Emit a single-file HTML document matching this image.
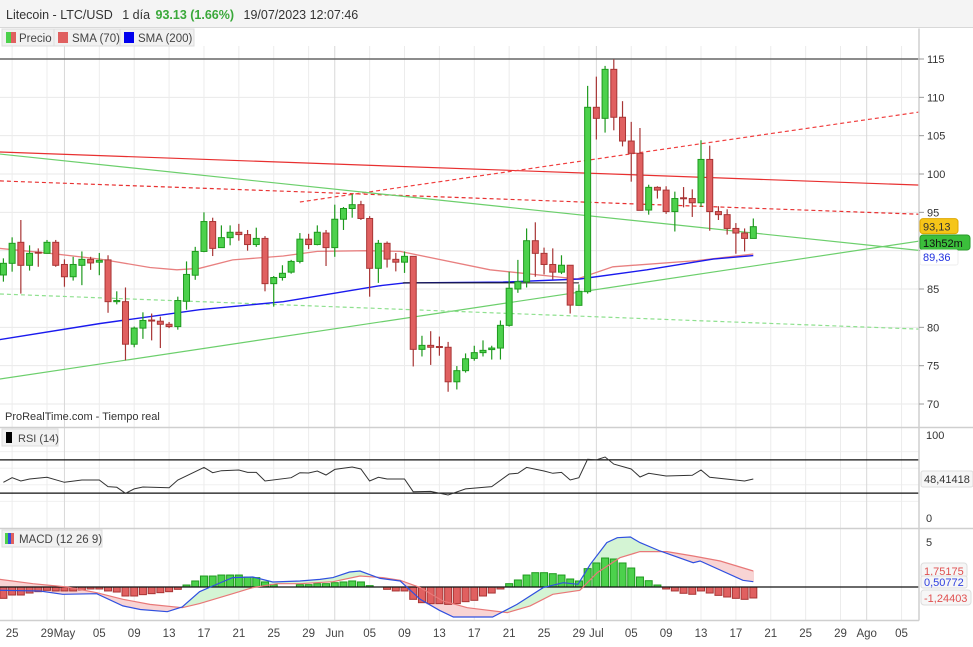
<!DOCTYPE html>
<html><head><meta charset="utf-8"><style>
body{margin:0;background:#fff;font-family:"Liberation Sans",sans-serif}
svg{display:block}
text{font-family:"Liberation Sans",sans-serif}
</style></head><body>
<svg id="c" width="973" height="647" viewBox="0 0 973 647">
<rect x="0" y="0" width="973" height="647" fill="#fff"/>
<rect x="0" y="0" width="973" height="27" fill="#f4f4f4"/>
<line x1="0" y1="27.5" x2="973" y2="27.5" stroke="#d8d8d8"/>
<text x="6" y="19" font-size="12.5" fill="#333">Litecoin - LTC/USD <tspan dx="6">1 día</tspan> <tspan fill="#3aa83a" font-weight="bold" dx="2">93.13 (1.66%)</tspan> <tspan dx="6">19/07/2023 12:07:46</tspan></text>
<g id="grid"></g>
<g id="lines"></g>
<g id="candles"></g>
<g id="rsi"></g>
<g id="macd"></g>
<g id="axes"></g>
<g>
 <rect x="2" y="29" width="52" height="17" fill="#f1f1f1" stroke="#ddd"/>
 <rect x="6" y="32" width="5" height="11" fill="#4cd14c"/><rect x="11" y="32" width="5" height="11" fill="#e06060"/>
 <text x="19" y="42" font-size="11.5" fill="#444">Precio</text>
 <rect x="54" y="29" width="66" height="17" fill="#f1f1f1" stroke="#ddd"/>
 <rect x="58" y="32" width="10" height="11" fill="#e06060"/>
 <text x="72" y="42" font-size="11.5" fill="#444">SMA (70)</text>
 <rect x="120" y="29" width="74" height="17" fill="#f1f1f1" stroke="#ddd"/>
 <rect x="124" y="32" width="10" height="11" fill="#0000ee"/>
 <text x="138" y="42" font-size="11.5" fill="#444">SMA (200)</text>
</g>
<text x="5" y="420" font-size="11" fill="#333">ProRealTime.com   - Tiempo real</text>
</svg>
<script>
const NS='http://www.w3.org/2000/svg';
function mk(p,t,a){const e=document.createElementNS(NS,t);for(const k in a)e.setAttribute(k,a[k]);p.appendChild(e);return e;}
// ---- data ----
const opens=[86.83,88.35,91.09,88.09,89.8,89.65,91.09,88.2,86.6,88.09,88.87,88.5,88.8,83.35,83.35,77.8,79.9,80.95,80.8,80.4,80.1,83.4,86.8,89.9,93.8,90.4,91.7,92.4,92.1,90.8,91.6,85.7,86.5,87.2,88.6,91.5,90.8,92.3,90.4,94.1,95.5,96.0,94.2,87.7,90.96,88.87,88.5,89.26,77.13,77.65,77.5,77.4,72.9,74.35,75.95,76.7,77.1,77.3,80.26,85.0,85.95,91.3,89.65,88.2,87.2,88.1,82.87,84.65,108.7,107.26,113.65,107.4,104.3,102.7,95.3,98.26,97.9,95.1,96.9,96.8,96.25,101.9,95.1,94.7,92.9,92.3,91.6];
const closes=[88.35,90.96,88.09,89.65,89.7,91.09,88.09,86.6,88.2,88.87,88.4,88.74,83.35,83.5,77.8,79.9,80.9,80.85,80.4,80.1,83.5,86.9,89.9,93.8,90.3,91.7,92.4,92.1,90.8,91.6,85.7,86.5,87.05,88.6,91.5,90.8,92.4,90.4,94.1,95.5,96.0,94.2,87.7,90.96,88.9,88.5,89.26,77.13,77.65,77.4,77.4,72.9,74.35,75.9,76.7,77.0,77.3,80.26,85.1,85.95,91.3,89.65,88.2,87.2,88.1,82.9,84.7,108.7,107.26,113.65,107.4,104.3,102.7,95.26,98.26,97.9,95.1,96.8,96.8,96.25,101.9,95.1,94.7,92.9,92.3,91.6,93.13];
const highs=[89.0,91.74,94.0,90.7,90.3,91.4,91.4,88.87,89.2,89.9,89.2,89.7,89.4,84.7,85.2,80.1,81.96,81.8,81.4,80.7,84.0,88.6,90.5,95.0,94.3,93.3,93.3,93.5,92.7,93.0,91.9,86.7,88.1,88.8,92.3,92.2,93.3,92.7,96.0,95.7,97.4,96.5,94.5,91.4,91.2,89.7,89.9,89.3,78.9,79.5,78.8,78.1,74.95,76.6,77.6,78.3,77.6,80.9,87.25,88.8,92.9,93.7,90.4,90.3,89.4,88.1,85.6,111.5,112.7,114.1,114.95,109.5,106.8,106.0,98.6,98.4,98.4,97.7,98.3,98.0,104.4,103.7,95.8,95.4,93.6,92.9,94.2];
const lows=[85.96,87.26,84.4,87.4,87.9,89.6,87.9,85.3,86.1,85.5,87.5,86.8,81.9,83.0,75.7,77.4,78.5,78.3,77.3,79.9,79.7,82.3,86.2,89.8,89.3,90.4,90.7,91.3,90.0,90.5,84.7,82.7,86.1,87.0,88.35,90.2,90.7,88.0,89.2,92.7,94.3,94.0,84.0,85.8,87.8,87.3,87.1,74.9,76.2,75.1,76.3,71.6,71.9,74.1,75.65,76.2,75.8,75.8,80.1,84.5,85.2,86.6,86.9,86.25,86.95,81.8,82.87,84.4,104.5,105.4,105.7,103.6,99.0,95.26,94.7,96.8,94.8,92.5,95.65,94.4,95.7,92.6,94.0,92.1,89.6,89.9,91.6];
const sma70Day=[-0.4,5.3,11.1,16.8,19.9,22.5,26.3,32.1,36,41.7,45.5,55.8,65.8,69.9,79.5,86];
const sma70Val=[90.3,89.66,88.9,87.8,87.5,87.7,88.8,89.3,89.9,90.0,89.9,87.5,86.3,87.9,88.7,89.57];
const sma200Day=[-0.4,11.1,22.5,32.1,43,46,57.3,66.1,73.8,81.4,86];
const sma200Val=[78.4,80.5,82.3,83.35,85.4,85.8,85.9,86.3,87.5,88.9,89.36];
const rsiDay=[0,1,2,3,5,7,9,11,12,13,14,15,16,19,20,23,24,25,27,28,29,30,33,34,35,36,37,38,40,41,42,43,44,46,47,49,51,53,56,58,59,60,62,63,64,65,66,67,68,69,70,72,73,74,76,79,80,81,85,86];
const rsiVal=[43,48.6,44.6,47,49,43,45.8,45.8,37.8,37,29.7,35,37.4,36.5,45.8,61,54.6,57,57.8,55,55,44.6,48.6,54.6,54.2,56.6,51.8,58.6,61.4,59,44.6,49,47,47,31.7,32,27.7,35,37.8,53,53.8,61,56.6,53.8,55,45.8,48.6,70.7,70,73.5,65,59,49.4,53.8,50.6,51.4,57.8,49,44.6,47];
const histVal=[-1.26,-0.89,-0.89,-0.67,-0.52,-0.37,-0.44,-0.44,-0.44,-0.33,-0.22,-0.22,-0.44,-0.56,-1.0,-1.0,-0.85,-0.74,-0.63,-0.52,-0.26,0.22,0.67,1.22,1.22,1.33,1.33,1.33,1.11,1.04,0.56,0.26,0.05,0.05,0.26,0.26,0.37,0.37,0.48,0.56,0.67,0.56,0.15,-0.05,-0.26,-0.44,-0.44,-1.37,-1.74,-1.85,-1.85,-1.93,-1.85,-1.63,-1.48,-1.0,-0.67,-0.22,0.37,0.78,1.33,1.59,1.59,1.48,1.33,0.89,0.67,2.04,2.67,3.22,3.11,2.67,2.11,1.11,0.7,0.22,-0.22,-0.44,-0.7,-0.81,-0.44,-0.67,-0.93,-1.11,-1.26,-1.37,-1.22];
const macdDay=[-0.4,4.2,6.8,10.7,13.7,15.7,18.8,20.5,22.5,24,26.3,28.6,30.9,34,36.3,37.8,39.7,40.9,43.2,45.5,47.8,50,51.6,56.1,58.9,61.9,64.2,65.9,67.3,69.2,70.4,71.9,73,75.3,79.1,79.9,84.8,86];
const macdVal=[-0.37,-0.44,-0.81,-0.74,-2.1,-2.5,-2.74,-2.22,-0.52,0.11,1.04,1.11,0.56,0.67,0.85,1.04,1.67,1.78,0.96,0.67,-1.37,-2.59,-3.33,-3.33,-1.93,-0.07,0.48,0.3,2.52,4.93,5.48,5.56,4.93,4.0,2.7,2.89,0.74,0.59];
const sigDay=[-0.4,3.4,7.3,10.7,13.7,16.8,20.5,22.5,26.3,28.6,31.4,34,37.8,40.9,43.5,45.5,47.8,50.4,53.2,54.7,57.8,60.4,63,66.1,68.1,70.7,73,76.1,79.1,82.2,86];
const sigVal=[0.85,0.37,0,-0.63,-1.37,-1.93,-2.3,-1.85,-0.74,-0.07,0.37,0.37,0.59,1.22,1.04,0.74,-0.07,-1.56,-2.3,-2.48,-2.85,-2.1,-0.81,-0.37,1.59,3.26,3.93,3.93,3.44,2.89,1.78];
const priceTicks=[70,75,80,85,90,95,100,105,110,115];
const dateTickDay=[1,5,7,11,15,19,23,27,31,35,38,42,46,50,54,58,62,66,68,72,76,80,84,88,92,96,99,103];
const dateTickLabel=['25','29','May','05','09','13','17','21','25','29','Jun','05','09','13','17','21','25','29','Jul','05','09','13','17','21','25','29','Ago','05'];
const monthDays=[7,38,68,99];
// drawn objects: [day1,price1,day2,price2,color,dash]
const trendDay1=[-0.4,-0.4,34,-0.4,-0.4,-0.4];
const trendP1=[102.87,99.1,96.35,102.6,73.26,84.35];
const trendDay2=[111.2,111.2,111.2,111.2,111.2,111.2];
const trendP2=[98.3,94.5,109.1,89.3,92.3,79.5];
const trendCol=['#e83030','#e83030','#f04040','#6ccf6c','#6ccf6c','#8ee08e'];
const trendDash=['','4,3','4,3','','','4,3'];
// ---- scales ----
const X=d=>3.4+d*8.72;
const PY=v=>59+(115-v)*7.667;
const RY=v=>518-v*0.83;
const MY=v=>587-v*9;
const W=919;
const g=id=>document.getElementById(id);
// grid
const grid=g('grid');
priceTicks.forEach(v=>{const l=mk(grid,'line',{x1:0,x2:W,y1:PY(v),y2:PY(v),stroke:'#e9e9e9'});});
[20,40,60,80].forEach(v=>{const l=mk(grid,'line',{x1:0,x2:W,y1:RY(v),y2:RY(v),stroke:'#f0f0f0'});});
dateTickDay.forEach(d=>{const m=monthDays.includes(d);const l=mk(grid,'line',{x1:X(d),x2:X(d),y1:46,y2:620,stroke:m?'#d8d8d8':'#ececec'});});
// trend lines
const lg=g('lines');
trendP1.forEach((p,i)=>{const l=mk(lg,'line',{x1:X(trendDay1[i]),y1:PY(p),x2:X(trendDay2[i]),y2:PY(trendP2[i]),stroke:trendCol[i],'stroke-width':1.2});if(trendDash[i])l.setAttribute('stroke-dasharray',trendDash[i]);});
const hl=mk(lg,'line',{x1:0,x2:W,y1:PY(115),y2:PY(115),stroke:'#666','stroke-width':1.5});

function poly(par,ds,vs,sc,col,w,name){const pts=ds.map((d,i)=>X(d).toFixed(1)+','+sc(vs[i]).toFixed(1)).join(' ');const p=mk(par,'polyline',{points:pts,fill:'none',stroke:col,'stroke-width':w});return p;}
poly(lg,sma70Day,sma70Val,PY,'#e88080',1.3,'sma70-line');
poly(lg,sma200Day,sma200Val,PY,'#1a1aee',1.4,'sma200-line');
const bl=mk(lg,'line',{x1:X(45.8),x2:X(66),y1:PY(85.8),y2:PY(85.8),stroke:'#111','stroke-width':1});

// candles
const cg=g('candles');
opens.forEach((o,i)=>{const c=closes[i],up=c>=o,x=X(i);const sc=up?'#1e9a1e':'#a83535',fc=up?'#4cd14c':'#e06060';
const w=mk(cg,'line',{x1:x,x2:x,y1:PY(highs[i]),y2:PY(lows[i]),stroke:sc,'stroke-width':1.2});
const t=PY(Math.max(o,c)),b=PY(Math.min(o,c));const r=mk(cg,'rect',{x:x-3,y:t,width:6,height:Math.max(1,b-t),fill:fc,stroke:sc,'stroke-width':1});});
// RSI
const rg=g('rsi');
[70,30].forEach(v=>{const l=mk(rg,'line',{x1:0,x2:W,y1:RY(v),y2:RY(v),stroke:'#111','stroke-width':1.3});});
poly(rg,rsiDay,rsiVal,RY,'#333',1,'rsi-line');
// MACD
const mg=g('macd');
function interp(ds,vs,d){if(d<=ds[0])return vs[0];for(let i=1;i<ds.length;i++){if(d<=ds[i]){const t=(d-ds[i-1])/(ds[i]-ds[i-1]);return vs[i-1]+t*(vs[i]-vs[i-1]);}}return vs[vs.length-1];}
for(let px=0;px<X(86);px+=1){const d=(px-3.4)/8.72,d2=(px+1-3.4)/8.72;const a=interp(macdDay,macdVal,d),b=interp(sigDay,sigVal,d),a2=interp(macdDay,macdVal,d2),b2=interp(sigDay,sigVal,d2);
const p=mk(mg,'polygon',{points:`${px},${MY(a)} ${px+1},${MY(a2)} ${px+1},${MY(b2)} ${px},${MY(b)}`,fill:a>=b?'#d4f4d4':'#f8d4d4',stroke:'none'});}
histVal.forEach((v,i)=>{const up=v>=0;const y=up?MY(v):MY(0),h=Math.abs(MY(v)-MY(0));if(h<0.5)return;const r=mk(mg,'rect',{x:X(i)-3.5,y:y,width:7,height:h,fill:up?'#4cd14c':'#e06060',stroke:up?'#1e9a1e':'#a83535','stroke-width':1});});
const zl=mk(mg,'line',{x1:0,x2:W,y1:MY(0),y2:MY(0),stroke:'#111','stroke-width':1.2});
poly(mg,sigDay,sigVal,MY,'#e87878',1.2,'macd-signal-line');
poly(mg,macdDay,macdVal,MY,'#3050e0',1.2,'macd-line');
// axes & panels
const ax=g('axes');
function rect(p,a,name,inter){const r=mk(p,'rect',a);return r;}
function txt(p,x,y,s,a,name){const t=mk(p,'text',Object.assign({x:x,y:y,'font-size':11,fill:'#333'},a||{}));t.textContent=s;return t;}
rect(ax,{x:W,y:28,width:973-W,height:592,fill:'#fff'},'price-axis-area','false');
[[0,427,973,427],[0,528,973,528],[0,620,W,620],[W,28,W,620]].forEach(a=>{const l=mk(ax,'line',{x1:a[0],y1:a[1]+0.5,x2:a[2],y2:a[3]+0.5,stroke:'#cfcfcf','stroke-width':1.5});});
priceTicks.forEach(v=>{const l=mk(ax,'line',{x1:W,x2:W+5,y1:PY(v),y2:PY(v),stroke:'#999'});txt(ax,927,PY(v)+4,String(v),{},'price-tick-label');});
dateTickDay.forEach((d,i)=>txt(ax,X(d),637,dateTickLabel[i],{'text-anchor':'middle','font-size':11.5,fill:'#444'},'date-tick-label'));
rect(ax,{x:920,y:PY(93.13)-8,width:38,height:15,rx:3,fill:'#f5c518',stroke:'#e0a800'},'last-price-badge','false');
txt(ax,923,PY(93.13)+4,'93,13',{},'last-price-value');
rect(ax,{x:920,y:235,width:50,height:15,rx:3,fill:'#3bbf3b',stroke:'#2a9a2a'},'countdown-badge','false');
txt(ax,923,247,'13h52m',{fill:'#111'},'countdown-value');
rect(ax,{x:920,y:250,width:38,height:15,rx:2,fill:'#fff',stroke:'#eee'},'sma200-badge','false');
txt(ax,923,261,'89,36',{fill:'#2030e0'},'sma200-value');
txt(ax,926,439,'100',{},'rsi-tick-100');txt(ax,926,522,'0',{},'rsi-tick-0');
rect(ax,{x:921,y:471,width:52,height:16,rx:2,fill:'#f6f6f6',stroke:'#ddd'},'rsi-value-badge','false');
txt(ax,924,483,'48,41418',{},'rsi-value');
rect(ax,{x:2,y:429,width:56,height:17,fill:'#f1f1f1',stroke:'#ddd'},'rsi-legend','true');
rect(ax,{x:6,y:432,width:6,height:11,fill:'#000'},'rsi-legend-swatch','false');
txt(ax,18,442,'RSI (14)',{fill:'#444'},'rsi-legend-label');
txt(ax,926,546,'5',{},'macd-tick-5');
rect(ax,{x:921,y:563,width:46,height:15,rx:3,fill:'#f6f6f6',stroke:'#ddd'},'signal-value-badge','false');
txt(ax,924,575,'1,75175',{fill:'#e05050'},'signal-value');
rect(ax,{x:921,y:576,width:46,height:12,rx:2,fill:'#f6f6f6',stroke:'#ddd'},'macd-value-badge','false');
txt(ax,924,586,'0,50772',{fill:'#3040e0'},'macd-value');
rect(ax,{x:921,y:590,width:50,height:15,rx:3,fill:'#f6f6f6',stroke:'#ddd'},'hist-value-badge','false');
txt(ax,924,602,'-1,24403',{fill:'#e05050'},'hist-value');
rect(ax,{x:2,y:530,width:100,height:17,fill:'#f1f1f1',stroke:'#ddd'},'macd-legend','true');
rect(ax,{x:5,y:533,width:3,height:11,fill:'#4cd14c'},'macd-swatch-1','false');
rect(ax,{x:8,y:533,width:3,height:11,fill:'#3050e0'},'macd-swatch-2','false');
rect(ax,{x:11,y:533,width:3,height:11,fill:'#e06060'},'macd-swatch-3','false');
txt(ax,19,543,'MACD (12 26 9)',{fill:'#444','font-size':11.5},'macd-legend-label');
</script>
</body></html>
